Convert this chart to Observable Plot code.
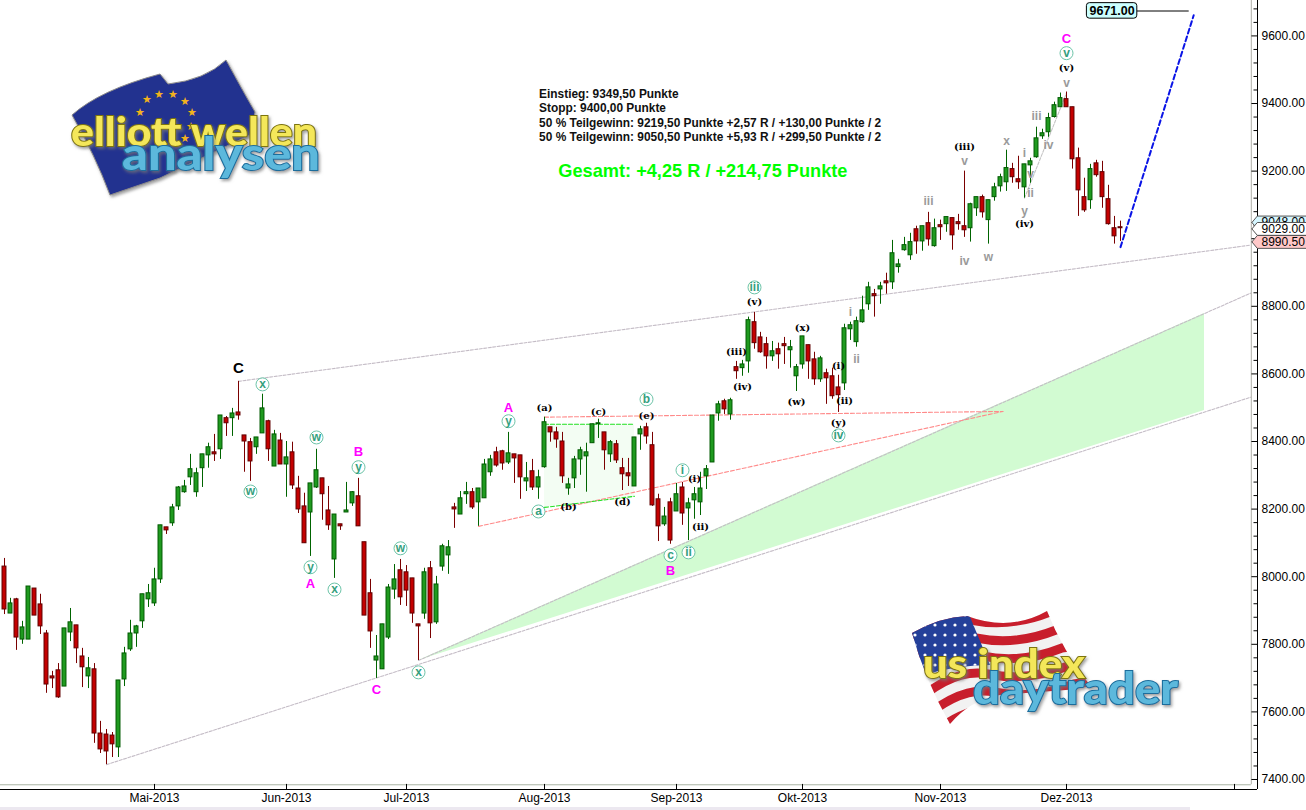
<!DOCTYPE html>
<html><head><meta charset="utf-8">
<script src="https://cdn.jsdelivr.net/npm/d3@7"></script>
<script src="https://cdn.jsdelivr.net/npm/@observablehq/plot@0.6"></script>
<style>
html,body{margin:0;padding:0;background:#fff;overflow:hidden}
#wrap{position:relative;width:1306px;height:810px}
#wrap svg{display:block;position:absolute;left:0;top:0}
#strip{position:absolute;left:0;top:807px;width:1190px;height:3px;background:#ece8f0}
</style></head><body><div id="wrap"><div id="strip"></div></div>
<script>
const highs=[8054,7936,7936,7868,7971,7965,7948,7841,7720,7743,
7847,7906,7856,7788,7761,7743,7572,7548,7539,7693,
7791,7871,7856,7948,7977,8025,8152,8146,8214,8267,
8285,8362,8321,8362,8395,8421,8477,8474,8498,8578,
8418,8409,8412,8540,8463,8433,8424,8400,8398,8297,
8247,8276,8377,8291,8267,8184,8155,8279,8252,8291,
8102,7992,7826,7859,7977,8036,8051,8033,7995,7859,
8025,8045,8001,8096,8107,8217,8252,8279,8261,8261,
8347,8359,8383,8374,8427,8362,8359,8338,8347,8315,
8472,8442,8442,8427,8291,8356,8383,8395,8451,8466,
8427,8403,8403,8350,8350,8412,8445,8454,8427,8244,
8205,8232,8276,8279,8232,8264,8309,8329,8477,8519,
8525,8528,8637,8640,8768,8782,8723,8708,8696,8691,
8708,8699,8628,8711,8685,8664,8652,8614,8617,8596,
8747,8753,8768,8830,8871,8850,8871,8898,8995,8939,
9004,9016,9037,9037,9078,9058,9055,9064,9061,9072,
9200,9105,9123,9129,9114,9164,9191,9262,9223,9244,
9220,9238,9330,9324,9371,9404,9431,9434,9389,9268,
9179,9220,9232,9229,9158,9066,9052];
const bodyTops=[8030,7921,7933,7850,7971,7965,7918,7832,7705,7723,
7847,7865,7856,7764,7729,7726,7536,7533,7530,7693,
7773,7832,7853,7948,7951,7992,8152,8146,8205,8264,
8267,8318,8306,8362,8383,8368,8477,8469,8483,8486,
8418,8398,8412,8498,8460,8421,8403,8353,8368,8261,
8208,8276,8315,8291,8196,8184,8155,8196,8250,8238,
8102,7951,7764,7859,7968,7992,8019,8013,7995,7859,
8013,8025,7977,8090,8087,8205,8232,8250,8250,8261,
8332,8347,8368,8371,8365,8362,8359,8291,8312,8294,
8457,8442,8427,8400,8273,8347,8374,8368,8451,8454,
8427,8398,8392,8321,8306,8412,8436,8442,8389,8229,
8178,8220,8244,8264,8217,8244,8261,8318,8477,8510,
8519,8522,8620,8628,8759,8753,8708,8688,8667,8673,
8688,8679,8620,8711,8685,8643,8646,8602,8593,8560,
8735,8744,8756,8788,8856,8836,8859,8874,8957,8924,
8981,8990,9028,9037,9046,9031,9040,9064,9061,9049,
9037,9102,9123,9123,9114,9152,9182,9209,9206,9176,
9220,9229,9297,9312,9357,9395,9416,9413,9389,9238,
9123,9206,9223,9197,9117,9031,9034];
const bodyBottoms=[7903,7891,7820,7814,7814,7885,7853,7681,7699,7643,
7675,7835,7788,7732,7705,7536,7489,7483,7504,7495,
7696,7785,7832,7868,7933,7921,7992,8137,8158,8208,
8250,8294,8250,8321,8359,8362,8377,8454,8469,8477,
8400,8341,8383,8424,8377,8326,8332,8332,8270,8199,
8099,8190,8264,8244,8152,8051,8149,8190,8217,8149,
7885,7838,7752,7726,7820,7962,7939,7959,7891,7853,
7891,7862,7865,8030,8063,8199,8184,8244,8205,8220,
8232,8309,8329,8335,8338,8350,8294,8282,8264,8264,
8324,8427,8406,8297,8261,8291,8347,8356,8395,8451,
8374,8362,8344,8303,8297,8267,8421,8415,8211,8149,
8155,8107,8193,8187,8202,8226,8220,8297,8338,8483,
8495,8480,8608,8617,8637,8691,8664,8652,8652,8658,
8682,8670,8593,8628,8637,8584,8584,8587,8534,8537,
8572,8732,8694,8753,8806,8830,8850,8868,8871,8916,
8966,8951,8992,8992,8998,8978,9034,9043,9010,9043,
9025,9031,9090,9078,9055,9123,9155,9167,9182,9167,
9152,9217,9241,9303,9315,9360,9389,9389,9235,9143,
9084,9114,9188,9123,9043,9007,9031];
const lows=[7888,7891,7782,7800,7814,7885,7829,7655,7669,7640,
7675,7808,7743,7672,7669,7507,7477,7444,7465,7465,
7675,7779,7791,7847,7909,7912,7980,8125,8149,8196,
8247,8270,8235,8264,8321,8341,8347,8415,8415,8463,
8309,8282,8362,8424,8341,8326,8332,8235,8258,8187,
8099,8060,8261,8167,8137,7995,8137,8190,8208,8149,
7885,7788,7699,7726,7814,7933,7915,7912,7862,7752,
7874,7817,7859,8016,8007,8143,8184,8214,8199,8149,
8232,8297,8324,8315,8332,8276,8229,8252,8255,8229,
8321,8398,8380,8276,8241,8261,8300,8250,8395,8409,
8315,8338,8335,8255,8267,8267,8374,8392,8208,8104,
8149,8096,8193,8152,8107,8170,8181,8258,8338,8460,
8480,8463,8584,8593,8602,8673,8661,8614,8637,8614,
8628,8617,8548,8614,8584,8566,8575,8510,8525,8486,
8551,8699,8679,8750,8788,8768,8806,8836,8850,8898,
8963,8936,8954,8963,8978,8975,8995,9019,8966,9025,
9004,8990,9066,9061,8984,9111,9138,9140,9164,9146,
9120,9164,9238,9294,9300,9357,9389,9389,9206,9066,
9078,9087,9182,9090,9040,8984,8992];
const directions="rgrggrrrrr"+"ggrrgrrrrg"+"gggggggrgg"+"gggggrgrgr"+"rrggrgrgrr"+"rggrrgrggr"+"rrggggrrrr"+"grgggrggrg"+"ggrrgrrgrg"+"grrrgggggg"+"rgrrrggrrr"+"grgrgggggg"+"rgrggrrrgr"+"rgggrrgrrr"+"gggggrgrgg"+"ggrgrgrgrr"+"rggrggggrr"+"gggggggrrr"+"rgrrrrr";

const monthTicks=[25,47,67,90,112,133,156,177,205];
const monthNames=["Mai-2013","Jun-2013","Jul-2013","Aug-2013","Sep-2013","Okt-2013","Nov-2013","Dez-2013",""];
const priceTicks=[7400,7600,7800,8000,8200,8400,8600,8800,9000,9200,9400,9600];
const minorTicks=[7440,7480,7520,7560,7640,7680,7720,7760,7840,7880,7920,7960,8040,8080,8120,8160,8240,8280,8320,8360,8440,8480,8520,8560,8640,8680,8720,8760,8840,8880,8920,8960,9040,9080,9120,9160,9240,9280,9320,9360,9440,9480,9520,9560,9640,9680];

const magentaLabels=[["A",51,7983],["B",59,8371],["C",62,7669],["A",84,8504],["B",111,8019],["C",177,9593]];
const circledLabels=[["x",43,8569],["w",41,8252],["w",52,8412],["y",51,8028],["x",55,7962],["y",59,8324],["w",66,8084],["x",69,7717],["y",84,8460],["a",89,8193],["b",107,8525],["i",113,8315],["c",111,8063],["ii",114,8072],["iii",125,8856],["iv",139,8418],["v",177,9549]];
const serifLabels=[["(a)",90,8504],["(b)",94,8211],["(c)",99,8492],["(d)",103,8226],["(e)",107,8480],["(i)",115,8294],["(ii)",116,8152],["(iii)",122,8667],["(iv)",123,8566],["(v)",125,8815],["(w)",132,8519],["(x)",133,8738],["(i)",139,8628],["(ii)",140,8522],["(y)",139,8457],["(iii)",160,9274],["(iv)",170,9046],["(v)",177,9508]];
const grayLabels=[["i",141,8785],["ii",142,8646],["iii",154,9114],["iv",160,8936],["v",160,9232],["w",164,8948],["x",167,9291],["i",170,9256],["v",171,9194],["ii",171,9138],["y",170,9084],["iii",172,9365],["iv",174,9280],["v",177,9463]];

const noteLines=["Einstieg: 9349,50 Punkte","Stopp: 9400,00 Punkte","50 % Teilgewinn: 9219,50 Punkte +2,57 R / +130,00 Punkte / 2","50 % Teilgewinn: 9050,50 Punkte +5,93 R / +299,50 Punkte / 2"];
const notePrices=[9429,9386,9343,9301];
const totalLine="Gesamt: +4,25 R / +214,75 Punkte";

const upperChannel=[[39,8578],[207.7,8981]];
const lowerChannel=[[17,7444],[207.7,8531]];
const wedgeTop=[[69,7752],[207.7,8839]];
const fan=[{i:69,top:7752,bottom:7752},{i:200,top:8779,bottom:8492}];
const redTop=[[90,8472],[166.4,8489]];
const redBottom=[[79,8149],[166.4,8489]];
const triangle=[{i:90,top:8451,bottom:8205},{i:105,top:8451,bottom:8238}];
const triTop=[[90,8451],[105,8451]];
const triBottom=[[90,8205],[105,8238]];
const grayDash=[[170,9120],[177,9431]];
const forecast=[[186,8975],[198.2,9661]];
const targetLine=[[188.8,9673.7],[197.3,9673.7]];
const tags=[{p:9048,t:"9048.00",fill:"#d6f6ff"},{p:9029,t:"9029.00",fill:"#ffffff"},{p:8990.5,t:"8990.50",fill:"#ffc8c8"}];

const candles=highs.map((h,i)=>({i,h,t:bodyTops[i],b:bodyBottoms[i],l:lows[i],d:directions[i]}));
const up=candles.filter(d=>d.d==="g"), down=candles.filter(d=>d.d==="r");
const X=d=>d[0],Y=d=>d[1];
const xMin=-0.6667,xMax=208.8333,yMin=7370.4,yMax=9704.8;
const dashLine=(pts,stroke,dash="3,1.5",w=1.1)=>Plot.line(pts,{x:X,y:Y,stroke,strokeDasharray:dash,strokeWidth:w});
const wicks=(rows,c)=>Plot.ruleX(rows,{x:"i",y1:"l",y2:"h",stroke:c,strokeWidth:1});
const bodies=(rows,c,e)=>Plot.rect(rows,{x1:d=>d.i-0.33,x2:d=>d.i+0.33,y1:"b",y2:d=>Math.max(d.t,d.b+3),fill:c,stroke:e,strokeWidth:1,inset:0});
const tagPoly=p=>[[207.9,p],[208.8,p+19],[217.5,p+19],[217.5,p-19],[208.8,p-19],[207.9,p]];
const sans="'Liberation Sans',Arial,sans-serif";

const chart=Plot.plot({
  width:1306,height:810,marginLeft:0,marginRight:49,marginTop:0,marginBottom:21,
  style:{background:"transparent",fontFamily:sans,overflow:"visible"},
  x:{domain:[xMin,xMax],axis:null},
  y:{domain:[yMin,yMax],axis:null},
  marks:[
    Plot.areaY(fan,{x:"i",y1:"bottom",y2:"top",fill:"#d2fbd2"}),
    Plot.areaY(triangle,{x:"i",y1:"bottom",y2:"top",fill:"#f3fdf3"}),
    dashLine(upperChannel,"#c4bcc6"),
    dashLine(lowerChannel,"#c4bcc6"),
    dashLine(wedgeTop,"#c4bcc6"),
    dashLine(redTop,"#ff8a8a","4,2"),
    dashLine(redBottom,"#ff8a8a","4,2"),
    dashLine(triTop,"#22e022","4,2"),
    dashLine(triBottom,"#22e022","4,2"),
    dashLine(grayDash,"#c4c4c4"),
    wicks(up,"#006400"),wicks(down,"#7a0000"),
    bodies(up,"#1f9a1f","#005a00"),bodies(down,"#c40000","#600000"),
    dashLine(forecast,"#0a14e6","5,3",2),
    Plot.line(targetLine,{x:X,y:Y,stroke:"#000",strokeWidth:1}),
    Plot.rect([0],{x1:180.4,x2:188.8,y1:9651,y2:9697,fill:"#ccffff",stroke:"#000",strokeWidth:1,rx:3}),
    Plot.text(["9671.00"],{x:184.6,y:9674,text:d=>d,fontSize:12.5,fontWeight:"bold",fill:"#000"}),
    // elliott wave labels
    Plot.text(magentaLabels,{x:d=>d[1],y:d=>d[2],text:d=>d[0],fill:"#ff00ff",fontSize:13,fontWeight:"bold",dy:1}),
    Plot.text([["C",39,8620]],{x:d=>d[1],y:d=>d[2],text:d=>d[0],fill:"#000",fontSize:15,fontWeight:"bold",dy:1}),
    Plot.dot(circledLabels,{x:d=>d[1],y:d=>d[2],r:6.5,fill:"#fff",stroke:"#6cc4a8",strokeWidth:1}),
    Plot.text(circledLabels,{x:d=>d[1],y:d=>d[2],text:d=>d[0],fill:"#35a07e",fontSize:12,fontWeight:"bold"}),
    Plot.text(serifLabels,{x:d=>d[1],y:d=>d[2],text:d=>d[0],fill:"#000",fontSize:10,fontWeight:"bold",fontFamily:"'DejaVu Serif',serif",dy:1}),
    Plot.text(grayLabels,{x:d=>d[1],y:d=>d[2],text:d=>d[0],fill:"#9a9a9a",fontSize:12,fontWeight:"bold",dy:1}),
    // trade notes
    Plot.text(noteLines,{x:89.1,y:(d,i)=>notePrices[i],text:d=>d,textAnchor:"start",fontSize:11.9,fontWeight:"bold",fill:"#111"}),
    Plot.text([totalLine],{x:92.3,y:9201,text:d=>d,textAnchor:"start",fontSize:18.2,fontWeight:"bold",fill:"#00ff00"}),
    // frame
    Plot.ruleY([yMin+14],{x1:xMin,x2:207.8,stroke:"#a9b3a4",strokeWidth:1}),
    Plot.ruleX([207.8],{y1:yMin+14,y2:yMax,stroke:"#b0b0a8",strokeWidth:1}),
    Plot.ruleY([yMin],{x1:xMin,x2:xMax,stroke:"#000",strokeWidth:1}),
    Plot.ruleX([xMax],{y1:yMin,y2:yMax,stroke:"#000",strokeWidth:1}),
    Plot.ruleX(monthTicks,{y1:yMin,y2:yMin+15,stroke:"#000",strokeWidth:1}),
    Plot.ruleY(priceTicks,{x1:207.9,x2:xMax,stroke:"#000",strokeWidth:1}),
    Plot.ruleY(minorTicks,{x1:208.25,x2:xMax,stroke:"#000",strokeWidth:1}),
    Plot.axisX(monthTicks,{anchor:"bottom",tickSize:0,tickPadding:4,fontSize:12,fill:"#000",tickFormat:(d,i)=>monthNames[i],label:null}),
    Plot.axisY(priceTicks,{anchor:"right",tickSize:0,tickPadding:4,fontSize:12,fill:"#000",tickFormat:d=>d.toFixed(2),label:null}),
    ...tags.flatMap(g=>[
      Plot.line(tagPoly(g.p),{x:X,y:Y,fill:g.fill,stroke:"#555",strokeWidth:1}),
      Plot.text([g.t],{x:209.5,y:g.p,text:d=>d,textAnchor:"start",fontSize:12,fill:"#000"})
    ])
  ]
});
const wrap=document.getElementById("wrap");
wrap.appendChild(chart);

// logos: drawn as plain artwork over the chart
const starPts=[[147,103],[159,98],[173,98],[185,105],[192,116],[140,116],[191,130],[185,142]];
const logoNS="http://www.w3.org/2000/svg";
const art=document.createElementNS(logoNS,"svg");
art.setAttribute("width",1306);art.setAttribute("height",810);
art.style.pointerEvents="none";
let stripes="";
for(let k=-1;k<7;k++){const a=6*k,o=18*k;stripes+=`<path d="M${880+a},${665+o} Q${930+a},${612+o} ${970+a},${620+o} T${1050+a},${612+o} L${1110+a},${604+o}" stroke="#c81e2c" stroke-width="9" fill="none"/>`;}
art.innerHTML=`
<defs>
<clipPath id="usf"><path d="M912,633 Q940,617 967,616 Q1010,632 1047,611 Q1062,650 1092,688 L1000,695 Q970,700 950,724 Q925,680 912,633Z"/></clipPath>
<pattern id="st" width="10" height="10" patternUnits="userSpaceOnUse"><circle cx="5" cy="5" r="1.6" fill="#fff"/></pattern>
<filter id="sh"><feDropShadow dx="1.5" dy="2" stdDeviation="1.5" flood-color="#777" flood-opacity=".7"/></filter>
</defs>
<path d="M72,115 Q100,90 160,74 L168,84 Q205,80 226,60 Q245,95 255,112 L250,135 L160,178 L110,195 Q95,155 72,115Z" fill="#24308f" stroke="#8a8a8a" filter="url(#sh)"/>
${starPts.map(p=>`<text x="${p[0]}" y="${p[1]}" font-size="11" fill="#f2b21c" text-anchor="middle">★</text>`).join("")}
<text x="71" y="146" textLength="246" lengthAdjust="spacingAndGlyphs" font-family="Lato,sans-serif" font-weight="900" font-size="40" fill="#f4e75a" stroke="#7d7410" stroke-width="2" paint-order="stroke" filter="url(#sh)">elliott wellen</text>
<text x="122" y="170" textLength="198" lengthAdjust="spacingAndGlyphs" font-family="Lato,sans-serif" font-weight="900" font-size="46" fill="#5cb8dc" stroke="#1a6d9c" stroke-width="2" paint-order="stroke" filter="url(#sh)">analysen</text>
<g clip-path="url(#usf)"><rect x="900" y="600" width="200" height="130" fill="#f2f2f2"/>${stripes}
<path d="M905,630 Q940,610 968,612 L990,665 Q955,665 925,675Z" fill="#24409a"/>
<path d="M905,630 Q940,610 968,612 L990,665 Q955,665 925,675Z" fill="url(#st)"/></g>
<text x="923" y="678" textLength="162" lengthAdjust="spacingAndGlyphs" font-family="Lato,sans-serif" font-weight="900" font-size="40" fill="#f4e75a" stroke="#7d7410" stroke-width="2" paint-order="stroke" filter="url(#sh)">us index</text>
<text x="973" y="704" textLength="205" lengthAdjust="spacingAndGlyphs" font-family="Lato,sans-serif" font-weight="900" font-size="44" fill="#5cb8dc" stroke="#1a6d9c" stroke-width="2" paint-order="stroke" filter="url(#sh)">daytrader</text>`;
wrap.appendChild(art);
</script></body></html>
